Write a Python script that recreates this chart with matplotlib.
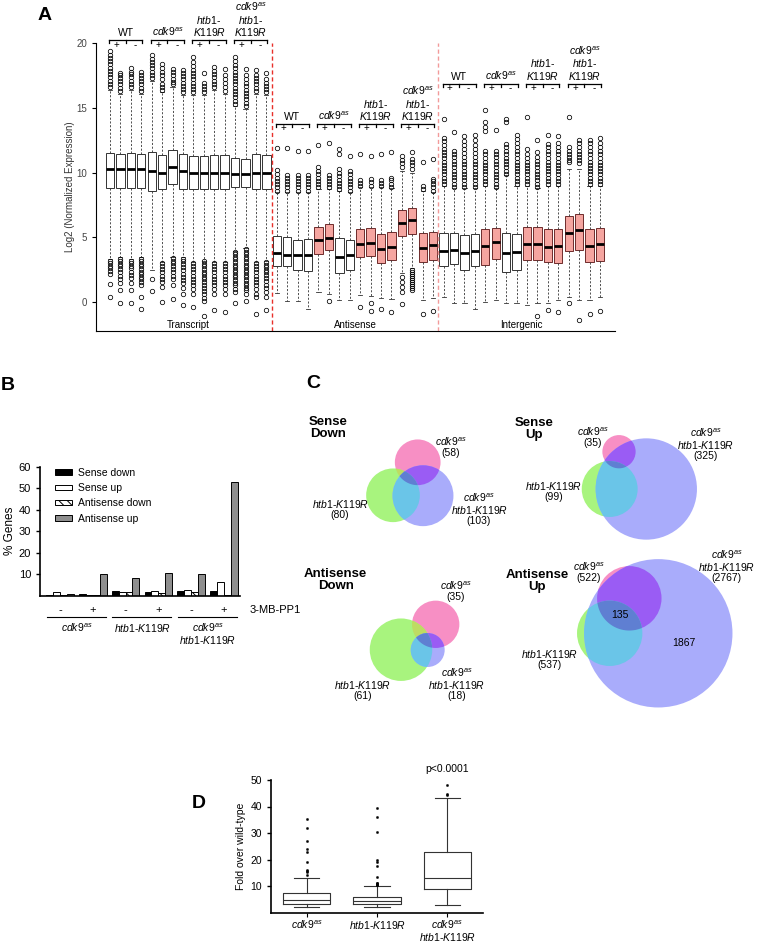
import numpy as np
import matplotlib.pyplot as plt
from matplotlib.patches import Circle, Polygon

plt.rcParams['font.family'] = ['Liberation Sans', 'DejaVu Sans']
plt.rcParams['mathtext.fontset'] = 'custom'
plt.rcParams['mathtext.rm'] = 'Liberation Sans'
plt.rcParams['mathtext.it'] = 'Liberation Sans:italic'
plt.rcParams['mathtext.bf'] = 'Liberation Sans:bold'
plt.rcParams['hatch.linewidth'] = 0.7

CDK = r'$\mathit{cdk9}^{\mathit{as}}$'
HTB = r'$\mathit{htb1}$-$\mathit{K119R}$'

# ---------------- panel A data (log2 normalized expression) ----------------
sections = ['Transcript', 'Antisense', 'Intergenic']
genotypes_a = ['WT', CDK, r'$\mathit{htb1}$-' + '\n' + r'$\mathit{K119R}$',
               CDK + '\n' + r'$\mathit{htb1}$-' + '\n' + r'$\mathit{K119R}$']
header_y = [20.2, 13.75, 16.85]

# transcript
q1_t = [8.8, 8.8, 8.8, 8.8, 8.6, 8.7, 9.1, 8.75, 8.7, 8.7, 8.7, 8.7, 8.85, 8.85, 8.7, 8.7]
med_t = [10.25, 10.25, 10.3, 10.25, 10.15, 10.0, 10.4, 10.15, 9.95, 10.0, 10.0, 10.0, 9.9, 9.9, 10.0, 10.0]
q3_t = [11.5, 11.45, 11.5, 11.45, 11.6, 11.35, 11.75, 11.45, 11.3, 11.3, 11.35, 11.35, 11.1, 11.05, 11.4, 11.35]
hi_t = [16.4, 16.1, 16.4, 16.1, 17.1, 16.2, 16.6, 16.0, 16.0, 16.0, 16.4, 16.1, 15.1, 14.9, 16.1, 16.0]
lo_t = [3.3, 3.45, 3.3, 3.45, 2.45, 3.1, 3.5, 3.45, 3.1, 3.2, 3.1, 3.1, 3.95, 4.2, 3.1, 3.2]
up_t = [
    [16.6, 16.85, 17.1, 17.35, 17.6, 17.85, 18.1, 18.35, 18.6, 18.85, 19.1, 19.35],
    [16.3, 16.55, 16.8, 17.05, 17.3, 17.5, 17.7],
    [16.6, 16.85, 17.1, 17.35, 17.6, 17.8, 18.05],
    [16.3, 16.55, 16.8, 17.05, 17.3, 17.55, 17.8],
    [17.3, 17.55, 17.8, 18.05, 18.3, 18.55, 18.8, 19.1],
    [16.4, 16.6, 16.8, 17.2, 17.5, 17.8, 18.1, 18.4],
    [16.8, 17.0, 17.25, 17.5, 17.75, 18.0],
    [16.2, 16.45, 16.7, 16.95, 17.2, 17.45, 17.7, 17.9],
    [16.2, 16.45, 16.7, 16.95, 17.2, 17.45, 17.7, 17.95, 18.2, 18.5, 18.9],
    [16.2, 16.45, 16.7, 16.95, 17.7],
    [16.6, 16.85, 17.1, 17.35, 17.6, 17.85, 18.15],
    [16.3, 16.6, 16.9, 17.2, 17.5, 18.0],
    [15.3, 15.55, 15.8, 16.05, 16.3, 16.55, 16.8, 17.05, 17.3, 17.55, 17.8, 18.05, 18.3, 18.6, 18.9],
    [15.15, 15.4, 15.65, 15.9, 16.15, 16.4, 16.65, 16.9, 17.2, 17.5, 18.0],
    [16.3, 16.55, 16.8, 17.05, 17.3, 17.55, 17.9],
    [16.2, 16.45, 16.7, 16.95, 17.2, 17.7],
]
down_t = [
    [3.2, 3.0, 2.8, 2.6, 2.4, 2.15, 1.4, 0.4],
    [3.35, 3.15, 2.95, 2.75, 2.55, 2.3, 2.05, 1.8, 1.45, 0.9, -0.1],
    [3.2, 3.0, 2.8, 2.6, 2.35, 2.1, 1.85, 1.45, 0.9, -0.1],
    [3.35, 3.15, 2.95, 2.75, 2.55, 2.35, 2.15, 1.95, 1.75, 1.55, 1.3, 0.4, -0.55],
    [1.8, 0.85],
    [3.0, 2.8, 2.55, 2.3, 2.05, 1.8, 1.55, 1.2, 0.0],
    [3.4, 3.2, 3.0, 2.8, 2.55, 2.3, 2.05, 1.75, 1.3, 0.25],
    [3.35, 3.15, 2.95, 2.7, 2.45, 2.2, 1.95, 1.7, 1.45, 1.1, 0.65, -0.2],
    [3.0, 2.8, 2.55, 2.3, 2.05, 1.8, 1.55, 1.3, 1.0, 0.65, -0.35],
    [3.15, 2.95, 2.75, 2.55, 2.35, 2.15, 1.95, 1.75, 1.55, 1.35, 1.1, 0.85, 0.6, 0.35, 0.05, -1.1],
    [3.0, 2.8, 2.55, 2.3, 2.05, 1.8, 1.55, 1.3, 1.0, 0.65, -0.6],
    [3.0, 2.8, 2.55, 2.3, 2.05, 1.8, 1.55, 1.3, 1.0, 0.65, -0.75],
    [3.9, 3.7, 3.5, 3.3, 3.1, 2.9, 2.7, 2.5, 2.3, 2.1, 1.9, 1.7, 1.5, 1.3, 1.05, 0.75, -0.1],
    [4.1, 3.9, 3.7, 3.5, 3.3, 3.1, 2.9, 2.7, 2.5, 2.3, 2.1, 1.9, 1.7, 1.5, 1.3, 1.1, 0.9, 0.6, 0.1],
    [3.0, 2.8, 2.55, 2.3, 2.05, 1.8, 1.55, 1.3, 1.0, 0.65, 0.4, -0.9],
    [3.1, 2.9, 2.7, 2.5, 2.3, 2.1, 1.85, 1.6, 1.35, 1.1, 0.8, 0.4, -0.6],
]

# antisense
q1_a = [2.77, 2.77, 2.51, 2.41, 3.74, 4.0, 2.25, 2.46, 3.48, 3.54, 3.03, 3.23, 5.1, 5.28, 3.1, 3.28]
med_a = [3.8, 3.67, 3.6, 3.6, 4.82, 4.97, 3.48, 3.6, 4.51, 4.56, 4.13, 4.26, 6.1, 6.31, 4.21, 4.38]
q3_a = [5.08, 5.03, 4.82, 4.9, 5.8, 6.05, 4.97, 4.82, 5.67, 5.72, 5.28, 5.41, 7.08, 7.28, 5.33, 5.41]
hi_a = [8.5, 8.5, 8.5, 8.5, 8.7, 8.7, 8.6, 8.5, 8.9, 8.9, 8.9, 8.8, 10.1, 10.0, 8.6, 8.5]
lo_a = [0.7, 0.05, 0.05, -0.55, 0.8, 0.6, 0.2, 0.2, 0.55, 0.5, 0.3, 0.25, 2.25, 2.6, 0.2, 0.3]
up_a = [
    [8.6, 8.85, 9.1, 9.35, 9.6, 9.85, 10.2, 11.9],
    [8.6, 8.85, 9.1, 9.35, 9.6, 9.8, 11.9],
    [8.6, 8.85, 9.1, 9.35, 9.6, 9.8, 11.7],
    [8.6, 8.85, 9.1, 9.35, 9.6, 9.8, 11.7],
    [8.85, 9.1, 9.35, 9.6, 9.85, 10.1, 10.4, 12.15],
    [8.85, 9.1, 9.35, 9.6, 9.8, 12.3],
    [8.7, 8.95, 9.2, 9.45, 9.7, 9.95, 10.3, 11.45, 11.85],
    [8.6, 8.85, 9.1, 9.35, 9.6, 9.85, 10.1, 11.3],
    [9.0, 9.2, 9.4, 11.45],
    [9.0, 9.25, 9.5, 11.25],
    [9.0, 9.2, 9.4, 11.45],
    [8.9, 9.15, 9.4, 9.6, 11.6],
    [10.45, 10.7, 10.95, 11.3],
    [10.3, 10.55, 10.8, 11.05, 11.6],
    [8.75, 8.95, 10.85],
    [8.6, 8.85, 9.1, 9.35, 9.5, 11.05],
]
down_a = [
    [], [], [], [], [], [0.08], [], [], [-0.4], [-0.1, -0.65], [-0.55], [-0.75],
    [1.95, 1.55, 1.2, 0.8, -0.15],
    [2.45, 2.3, 2.15, 2.0, 1.85, 1.7, 1.55, 1.4, 1.25, 1.1, 0.95],
    [-0.9], [-0.65],
]

# intergenic
q1_i = [2.77, 2.92, 2.51, 2.77, 2.85, 3.36, 2.33, 2.46, 3.28, 3.25, 3.1, 3.05, 3.95, 4.05, 3.1, 3.18]
med_i = [3.95, 4.0, 3.8, 3.92, 4.33, 4.64, 3.82, 3.85, 4.46, 4.46, 4.26, 4.3, 5.36, 5.54, 4.33, 4.46]
q3_i = [5.36, 5.36, 5.2, 5.28, 5.67, 5.74, 5.36, 5.23, 5.79, 5.79, 5.62, 5.64, 6.62, 6.77, 5.62, 5.72]
hi_i = [9.0, 8.8, 8.8, 8.8, 9.0, 8.8, 9.8, 9.0, 9.0, 8.8, 9.0, 9.0, 10.3, 10.3, 9.0, 9.0]
lo_i = [0.4, -0.1, -0.1, -0.5, 0.0, 0.15, -0.1, -0.1, -0.25, -0.1, -0.1, 0.15, 0.4, 0.2, 0.2, 0.4]
up_i = [
    [9.1, 9.35, 9.6, 9.85, 10.1, 10.35, 10.6, 10.85, 11.1, 11.35, 11.6, 11.85, 12.1, 12.4, 12.7, 14.1],
    [8.9, 9.15, 9.4, 9.65, 9.9, 10.15, 10.4, 10.65, 10.9, 11.2, 11.45, 11.7, 13.1],
    [8.9, 9.15, 9.4, 9.65, 9.9, 10.15, 10.4, 10.65, 10.9, 11.2, 11.5, 11.8, 12.1, 12.45, 12.8],
    [8.9, 9.15, 9.4, 9.65, 9.9, 10.15, 10.4, 10.65, 10.9, 11.2, 11.5, 11.8, 12.1, 12.5, 12.9],
    [9.1, 9.35, 9.6, 9.85, 10.1, 10.35, 10.6, 10.85, 11.1, 11.4, 11.7, 13.2, 13.55, 13.9, 14.8],
    [8.9, 9.15, 9.4, 9.65, 9.9, 10.15, 10.4, 10.65, 10.9, 11.2, 11.45, 11.7, 13.3],
    [9.9, 10.15, 10.4, 10.65, 10.9, 11.15, 11.4, 11.7, 11.95, 12.2, 13.9, 14.15],
    [9.1, 9.35, 9.6, 9.85, 10.1, 10.35, 10.6, 10.85, 11.1, 11.4, 11.7, 12.0, 12.3, 12.6, 12.9],
    [9.1, 9.35, 9.6, 9.85, 10.1, 10.35, 10.6, 10.85, 11.1, 11.45, 11.8, 14.3],
    [8.9, 9.15, 9.4, 9.65, 9.9, 10.15, 10.4, 10.65, 10.9, 11.2, 11.6, 12.5],
    [9.1, 9.35, 9.6, 9.85, 10.1, 10.35, 10.6, 10.85, 11.1, 11.4, 11.7, 12.0, 12.2, 12.9],
    [9.1, 9.35, 9.6, 9.85, 10.1, 10.35, 10.6, 10.85, 11.1, 11.4, 11.7, 12.0, 12.3, 12.8],
    [10.8, 11.0, 11.2, 11.45, 11.7, 11.95, 14.3],
    [10.7, 10.95, 11.2, 11.45, 11.7, 12.0, 12.25, 12.5],
    [9.1, 9.35, 9.6, 9.85, 10.1, 10.35, 10.6, 10.85, 11.1, 11.4, 11.7, 12.0, 12.25, 12.5],
    [9.1, 9.35, 9.6, 9.85, 10.1, 10.35, 10.6, 10.85, 11.1, 11.4, 11.7, 12.0, 12.3, 12.7],
]
down_i = [[], [], [], [], [], [], [], [], [], [-1.1], [-0.6], [-0.75], [-0.1], [-1.4], [-0.95], [-0.65]]

# 1 = box drawn in salmon
red_flags = [[0] * 16,
             [0, 0, 0, 0, 1, 1, 0, 0, 1, 1, 1, 1, 1, 1, 1, 1],
             [0, 0, 0, 0, 1, 1, 0, 0, 1, 1, 1, 1, 1, 1, 1, 1]]

# ---------------- panel B data (% genes) ----------------
b_treat = ['-', '+', '-', '+', '-', '+']
sense_down = [0.2, 1.0, 2.3, 1.5, 2.2, 2.1]
sense_up = [1.5, 0.3, 1.6, 2.0, 2.6, 6.4]
antisense_down = [0.3, 0.3, 1.7, 1.3, 1.8, 0.2]
antisense_up = [1.0, 10.2, 8.1, 10.4, 10.2, 53.0]
b_genotypes = [CDK, HTB, CDK + '\n' + HTB]

# ---------------- panel C data (Venn counts) ----------------
venn_titles = ['Sense\nDown', 'Sense\nUp', 'Antisense\nDown', 'Antisense\nUp']
venn_cdk = [58, 35, 35, 522]
venn_htb = [80, 99, 61, 537]
venn_double = [103, 325, 18, 2767]
venn_inner = {3: ['135', '1867']}

# ---------------- panel D data (fold over wild-type) ----------------
d_labels = [CDK, HTB, CDK + '\n' + HTB]
d_q1 = [3.2, 3.2, 8.7]
d_med = [4.6, 4.2, 12.9]
d_q3 = [7.2, 6.0, 22.9]
d_lo = [2.0, 2.2, 2.7]
d_hi = [12.9, 9.9, 43.2]
d_fliers = [[35.3, 32.0, 27.0, 24.0, 22.8, 19.2, 16.0, 15.7, 15.4, 14.3],
            [39.6, 36.2, 30.3, 19.8, 19.2, 17.6, 13.4, 11.2, 11.0, 10.6, 10.4, 10.2],
            [48.3, 44.8, 44.3]]


def make_stats(q1, med, q3, lo, hi, fl):
    return [dict(q1=a, med=b, q3=c, whislo=d, whishi=e, fliers=f)
            for a, b, c, d, e, f in zip(q1, med, q3, lo, hi, fl)]


fig = plt.figure(figsize=(7.57, 9.44), dpi=100)
W, H = 757.0, 944.0


def px_axes(x0, y0, x1, y1):
    return fig.add_axes([x0 / W, 1 - y1 / H, (x1 - x0) / W, (y1 - y0) / H])


# ======================= A =======================
axA = px_axes(96, 43, 615, 331)
data_a = [(q1_t, med_t, q3_t, lo_t, hi_t, up_t, down_t),
          (q1_a, med_a, q3_a, lo_a, hi_a, up_a, down_a),
          (q1_i, med_i, q3_i, lo_i, hi_i, up_i, down_i)]
n = len(q1_t)
for s, (q1, med, q3, lo, hi, up, dn) in enumerate(data_a):
    fl = [u + d for u, d in zip(up, dn)]
    pos = np.arange(1, n + 1) + s * n
    bp = axA.bxp(make_stats(q1, med, q3, lo, hi, fl), positions=pos, widths=0.8,
                 capwidths=0.4, patch_artist=True, manage_ticks=False,
                 boxprops=dict(lw=0.7, edgecolor='#333333'),
                 medianprops=dict(color='black', lw=2.0, solid_capstyle='butt'),
                 whiskerprops=dict(ls=(0, (2.5, 2)), lw=0.6, color='#333333'),
                 capprops=dict(lw=0.6, color='#333333'),
                 flierprops=dict(marker='o', mfc='none', mec='black', ms=3.2, mew=0.55))
    for patch, red in zip(bp['boxes'], red_flags[s]):
        if red:
            patch.set_facecolor('#f5a5a0')
            patch.set_edgecolor('#6e2b2b')
        else:
            patch.set_facecolor('white')

    # genotype headers with +/- brackets
    yb = header_y[s]
    for g, lab in enumerate(genotypes_a):
        x1 = s * n + 4 * g + 1
        x4 = x1 + 3
        axA.plot([x1 - 0.1, x4 + 0.1], [yb, yb], color='black', lw=0.9, clip_on=False)
        for xt in (x1 - 0.1, x1 + 1.5, x4 + 0.1):
            axA.plot([xt, xt], [yb, yb - 0.22], color='black', lw=0.9, clip_on=False)
        axA.text(x1 + 0.6, yb - 0.33, '+', ha='center', va='center', fontsize=7, clip_on=False)
        axA.text(x1 + 2.4, yb - 0.33, '-', ha='center', va='center', fontsize=7, clip_on=False)
        axA.text(x1 + 1.5, yb + 0.15, lab, ha='center', va='bottom', fontsize=7.5,
                 linespacing=1.05, clip_on=False)
    axA.text(s * n + (n + 1) / 2, -1.75, sections[s], ha='center', va='center', fontsize=7)

axA.axvline(n + 0.5, color='#e8302a', ls=(0, (3, 2)), lw=1.0)
axA.axvline(2 * n + 0.5, color='#f29a9a', ls=(0, (3, 2)), lw=1.0)
axA.set_xlim(-0.34, 3 * n + 1.44)
axA.set_ylim(-2.23, 20)
axA.set_xticks([])
axA.set_yticks([0, 5, 10, 15, 20])
axA.tick_params(axis='y', labelsize=7, length=3, width=0.8, labelcolor='#444444')
axA.set_ylabel('Log2 (Normalized Expression)', fontsize=7, color='#333333', labelpad=1)
for sp in ('top', 'right'):
    axA.spines[sp].set_visible(False)
for sp in ('left', 'bottom'):
    axA.spines[sp].set_linewidth(0.8)

# ======================= B =======================
axB = px_axes(40, 466.7, 240, 595.7)
xg = np.arange(len(b_treat))
w = 0.21
axB.bar(xg - 1.5 * w, sense_down, w, color='black', edgecolor='black', lw=0.7, label='Sense down')
axB.bar(xg - 0.5 * w, sense_up, w, color='white', edgecolor='black', lw=0.7, label='Sense up')
axB.bar(xg + 0.5 * w, antisense_down, w, color='white', edgecolor='black', lw=0.7,
        hatch='\\\\\\\\', label='Antisense down')
axB.bar(xg + 1.5 * w, antisense_up, w, color='#8e8e8e', edgecolor='black', lw=0.7, label='Antisense up')
axB.set_xlim(-0.61, 5.49)
axB.set_ylim(0, 60)
axB.set_yticks([10, 20, 30, 40, 50, 60])
axB.set_xticks(xg)
axB.set_xticklabels(b_treat, fontsize=8)
axB.tick_params(axis='x', length=0, pad=7)
axB.tick_params(axis='y', labelsize=8, length=3, width=1.0)
axB.set_ylabel('% Genes', fontsize=8.5, labelpad=2)
for sp in ('top', 'right'):
    axB.spines[sp].set_visible(False)
for sp in ('left', 'bottom'):
    axB.spines[sp].set_linewidth(1.2)
axB.legend(loc='upper left', bbox_to_anchor=(0.075, 0.99), frameon=False, fontsize=7.5,
           handlelength=1.6, handleheight=0.45, labelspacing=0.5, handletextpad=0.6,
           borderaxespad=0, borderpad=0)
xtr = axB.get_xaxis_transform()
axB.text(1.05, -0.11, '3-MB-PP1', transform=axB.transAxes, ha='left', va='center', fontsize=8)
for k, lab in enumerate(b_genotypes):
    xa, xb = xg[2 * k] - 0.4, xg[2 * k + 1] + 0.4
    axB.plot([xa, xb], [-0.165, -0.165], color='black', lw=0.8, transform=xtr, clip_on=False)
    axB.text((xa + xb) / 2, -0.2, lab, transform=xtr, ha='center', va='top', fontsize=7.5,
             linespacing=1.0)

# ======================= C (Venn) =======================
axC = fig.add_axes([0, 0, 1, 1])
axC.set_xlim(0, W)
axC.set_ylim(H, 0)
axC.axis('off')

venn_scale = [3.0, 2.81, 4.0, 1.41]
venn_centers = [  # pink (cdk9as), green (htb1), blue (double) centres, pixels
    [(417.7, 462.3), (393.0, 495.3), (423.0, 495.7)],
    [(619.0, 451.7), (609.7, 489.0), (646.3, 489.0)],
    [(435.7, 624.3), (401.0, 649.7), (427.7, 650.0)],
    [(629.3, 598.3), (609.7, 633.3), (658.3, 633.3)],
]
title_xy = [(328, 428), (534, 429), (335.7, 580), (537.3, 581)]
lab_cdk_xy = [(451, 446.3), (592.7, 437), (456, 590.8), (588.7, 571.8)]
lab_htb_xy = [(340, 508.5), (553.3, 491.5), (362.3, 689.7), (549.3, 658.7)]
lab_dbl_xy = [(479, 508.5), (705.7, 443.5), (456.7, 683.8), (726.7, 565.5)]
inner_xy = [(620, 615), (684.3, 643.3)]

c_pink, c_green, c_blue = '#f78fc4', '#a8f47e', '#a9acfb'
c_pb, c_gb, c_pg, c_pgb = '#9a5cf4', '#6ac5e8', '#bedc62', '#5f7fd2'


def lens(a, b):
    t = np.linspace(0, 2 * np.pi, 720)
    pts = []
    for c1, c2 in ((a, b), (b, a)):
        x = c1[0] + c1[2] * np.cos(t)
        y = c1[1] + c1[2] * np.sin(t)
        m = (x - c2[0]) ** 2 + (y - c2[1]) ** 2 <= c2[2] ** 2
        pts.append(np.c_[x[m], y[m]])
    p = np.vstack(pts)
    if len(p) < 3:
        return None
    c = p.mean(0)
    return p[np.argsort(np.arctan2(p[:, 1] - c[1], p[:, 0] - c[0]))]


def clipped(shape_patch, clip, color):
    shape_patch.set_facecolor(color)
    shape_patch.set_edgecolor('none')
    axC.add_patch(shape_patch)
    shape_patch.set_clip_path(Circle(clip[:2], clip[2], transform=axC.transData))


for v in range(4):
    k = venn_scale[v]
    P = (*venn_centers[v][0], k * np.sqrt(venn_cdk[v]))
    G = (*venn_centers[v][1], k * np.sqrt(venn_htb[v]))
    B = (*venn_centers[v][2], k * np.sqrt(venn_double[v]))
    for c, col in ((P, c_pink), (G, c_green), (B, c_blue)):
        axC.add_patch(Circle(c[:2], c[2], fc=col, ec='none'))
    clipped(Circle(P[:2], P[2]), G, c_pg)
    clipped(Circle(P[:2], P[2]), B, c_pb)
    clipped(Circle(G[:2], G[2]), B, c_gb)
    lp = lens(P, G)
    if lp is not None:
        clipped(Polygon(lp, closed=True), B, c_pgb)

    axC.text(*title_xy[v], venn_titles[v], ha='center', va='center', fontsize=9.5,
             fontweight='bold', linespacing=1.0)
    axC.text(*lab_cdk_xy[v], CDK + '\n(%d)' % venn_cdk[v], ha='center', va='center',
             fontsize=7.5, linespacing=1.0)
    axC.text(*lab_htb_xy[v], HTB + '\n(%d)' % venn_htb[v], ha='center', va='center',
             fontsize=7.5, linespacing=1.0)
    axC.text(*lab_dbl_xy[v], CDK + '\n' + HTB + '\n(%d)' % venn_double[v], ha='center',
             va='center', fontsize=7.5, linespacing=1.0)
    if v in venn_inner:
        for xy, s in zip(inner_xy, venn_inner[v]):
            axC.text(*xy, s, ha='center', va='center', fontsize=7.5)

# ======================= D =======================
axD = px_axes(271, 780, 483, 912.5)
axD.bxp(make_stats(d_q1, d_med, d_q3, d_lo, d_hi, d_fliers), positions=[1, 2, 3], widths=0.67,
        capwidths=0.36, manage_ticks=False,
        boxprops=dict(lw=0.8, color='#333333'), medianprops=dict(lw=0.8, color='#333333'),
        whiskerprops=dict(lw=0.8, color='#333333'), capprops=dict(lw=0.8, color='#333333'),
        flierprops=dict(marker='o', ms=1.6, mfc='black', mec='black', mew=0.3))
axD.set_xlim(0.49, 3.51)
axD.set_ylim(0, 50)
axD.set_yticks([10, 20, 30, 40, 50])
axD.set_xticks([1, 2, 3])
axD.set_xticklabels(d_labels, fontsize=7.5, linespacing=0.95)
axD.tick_params(axis='y', labelsize=7.5, length=3, width=1.0)
axD.tick_params(axis='x', length=3, width=0.8, pad=1.5)
axD.set_ylabel('Fold over wild-type', fontsize=7.5, labelpad=3)
axD.text(3, 54.2, 'p<0.0001', ha='center', va='center', fontsize=7.5, clip_on=False)
for sp in ('top', 'right'):
    axD.spines[sp].set_visible(False)
for sp in ('left', 'bottom'):
    axD.spines[sp].set_linewidth(1.2)

# panel letters
for lab, (x, y) in zip('ABCD', [(45, 15), (8, 385), (313, 384), (199, 804)]):
    fig.text(x / W, 1 - y / H, lab, fontsize=14, fontweight='bold', ha='center', va='center')

fig.savefig('out.png', dpi=100)
